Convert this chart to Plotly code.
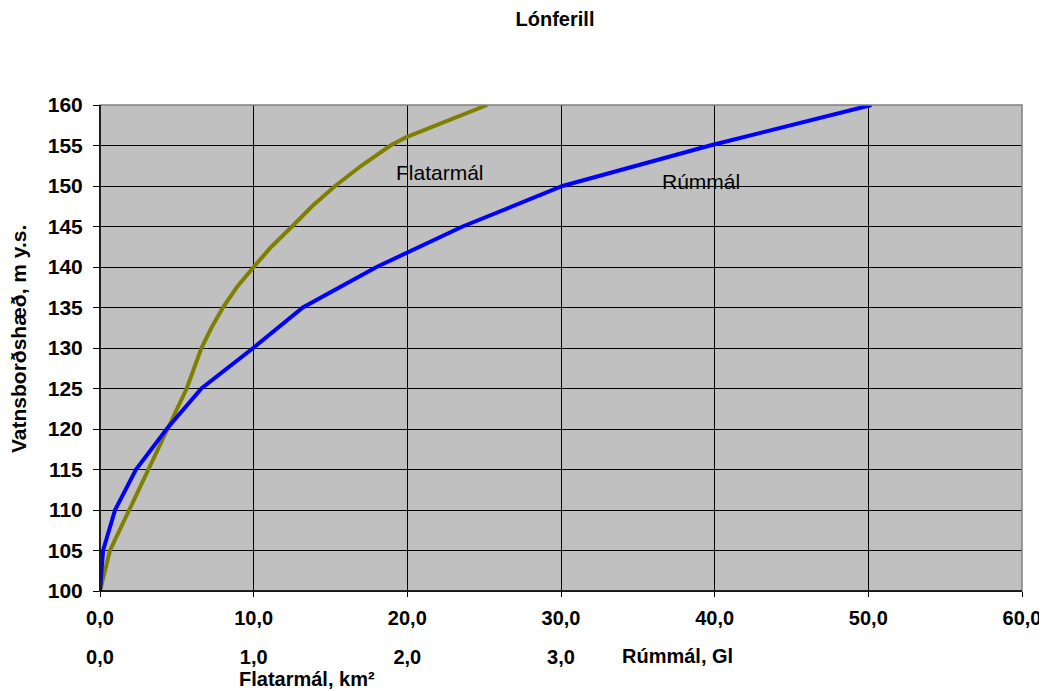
import plotly.graph_objects as go

# Water level (m y.s.)
levels_rum = [100, 105, 110, 115, 120, 125, 130, 135, 140, 145, 150, 155, 160]
# Rúmmál (Gl)
rummal = [0.0, 0.2, 0.98, 2.34, 4.34, 6.6, 9.97, 13.2, 18.0, 23.6, 30.1, 39.7, 50.2]

# Water level for the area curve (m y.s.)
levels_fla = [100, 105, 110, 115, 120, 125, 130, 132.5, 135, 137.5, 140, 142.5, 145,
              147.5, 150, 152.5, 155, 156, 160]
# Flatarmál (drawn on the primary x scale: 10 units = 1,0 km²)
flatarmal = [0.0, 0.65, 1.9, 3.15, 4.34, 5.64, 6.6, 7.25, 8.0, 8.9, 10.0, 11.15, 12.5,
             13.8, 15.3, 17.0, 18.9, 19.9, 25.2]

x_ticks = [0, 10, 20, 30, 40, 50, 60]
x2_ticks = [0, 1, 2, 3]
x2_labels = ["0,0", "1,0", "2,0", "3,0"]
y_ticks = list(range(100, 161, 5))

OFF = 8                      # page body margin
W, H = 1047 - OFF, 691 - OFF
ml, mt, mr, mb = 100 - OFF, 105 - OFF, 25, 10
plot_bottom = 591 - OFF
paper_h = H - mt - mb
paper_w = W - ml - mr
ydom0 = (H - mb - plot_bottom) / paper_h

def px_x(sx):
    return (sx - OFF - ml) / paper_w

def px_y(sy):
    return (H - mb - (sy - OFF)) / paper_h

FONT = "Arial, Liberation Sans, sans-serif"

fig = go.Figure()
fig.add_trace(go.Scatter(x=flatarmal, y=levels_fla, mode="lines", name="Flatarmál",
                         line=dict(color="#808000", width=4)))
fig.add_trace(go.Scatter(x=rummal, y=levels_rum, mode="lines", name="Rúmmál",
                         line=dict(color="#0000FF", width=4)))
# invisible trace on the secondary (Flatarmál) scale
fig.add_trace(go.Scatter(x=[0, 6], y=[100, 100], xaxis="x2", mode="lines",
                         line=dict(width=0), hoverinfo="skip", showlegend=False))

fig.update_layout(
    width=W, height=H,
    margin=dict(l=ml, r=mr, t=mt, b=mb, autoexpand=False),
    paper_bgcolor="white",
    plot_bgcolor="#C0C0C0",
    separators=", ",
    showlegend=False,
    title=dict(text="<b>Lónferill</b>", xref="paper", x=px_x(555), xanchor="center",
               yref="container", y=1 - (19 - OFF) / H, yanchor="middle",
               font=dict(family=FONT, size=20, color="black"), automargin=False),
    xaxis=dict(range=[0, 60], tickvals=x_ticks, tickformat=".1f", automargin=False,
               showgrid=True, gridcolor="#000000", gridwidth=1,
               showline=True, linecolor="black", linewidth=1,
               ticks="outside", ticklen=5, tickcolor="black", ticklabelstandoff=4,
               tickfont=dict(family=FONT, size=20, color="black", weight="bold"),
               zeroline=False),
    xaxis2=dict(range=[0, 6], overlaying="x", anchor="free", position=0.066, side="bottom",
                automargin=False,
                tickvals=x2_ticks, ticktext=x2_labels, showgrid=False, showline=False,
                ticks="", zeroline=False,
                tickfont=dict(family=FONT, size=20, color="black", weight="bold")),
    yaxis=dict(range=[100, 160], tickvals=y_ticks, domain=[ydom0, 1], automargin=False,
               showgrid=True, gridcolor="#000000", gridwidth=1,
               showline=True, linecolor="black", linewidth=1,
               ticks="outside", ticklen=6, tickcolor="black", ticklabelstandoff=6,
               tickfont=dict(family=FONT, size=21, color="black", weight="bold"),
               zeroline=False),
    shapes=[dict(type="rect", xref="x domain", yref="y domain", x0=0, x1=1, y0=0, y1=1,
                 line=dict(color="#808080", width=1.5), layer="above"),
            dict(type="line", xref="x domain", yref="y domain", x0=0, x1=1, y0=0, y1=0,
                 line=dict(color="black", width=1.5), layer="above"),
            dict(type="line", xref="x domain", yref="y domain", x0=0, x1=0, y0=0, y1=1,
                 line=dict(color="black", width=1.5), layer="above")],
    annotations=[
        dict(text="Flatarmál", x=22.1, y=151.7, xref="x", yref="y", showarrow=False,
             font=dict(family=FONT, size=21, color="black")),
        dict(text="Rúmmál", x=39.1, y=150.5, xref="x", yref="y", showarrow=False,
             font=dict(family=FONT, size=21, color="black")),
        dict(text="<b>Rúmmál, Gl</b>", x=px_x(620), y=px_y(656), xref="paper", yref="paper",
             xanchor="left", yanchor="middle", showarrow=False,
             font=dict(family=FONT, size=20, color="black")),
        dict(text="<b>Flatarmál, km²</b>", x=px_x(237), y=px_y(679), xref="paper", yref="paper",
             xanchor="left", yanchor="middle", showarrow=False,
             font=dict(family=FONT, size=20, color="black")),
        dict(text="<b>Vatnsborðshæð, m y.s.</b>", x=px_x(18), y=px_y(339), xref="paper", yref="paper",
             xanchor="center", yanchor="middle", textangle=-90, showarrow=False,
             font=dict(family=FONT, size=21, color="black")),
    ],
)

fig.write_html("out.html")
